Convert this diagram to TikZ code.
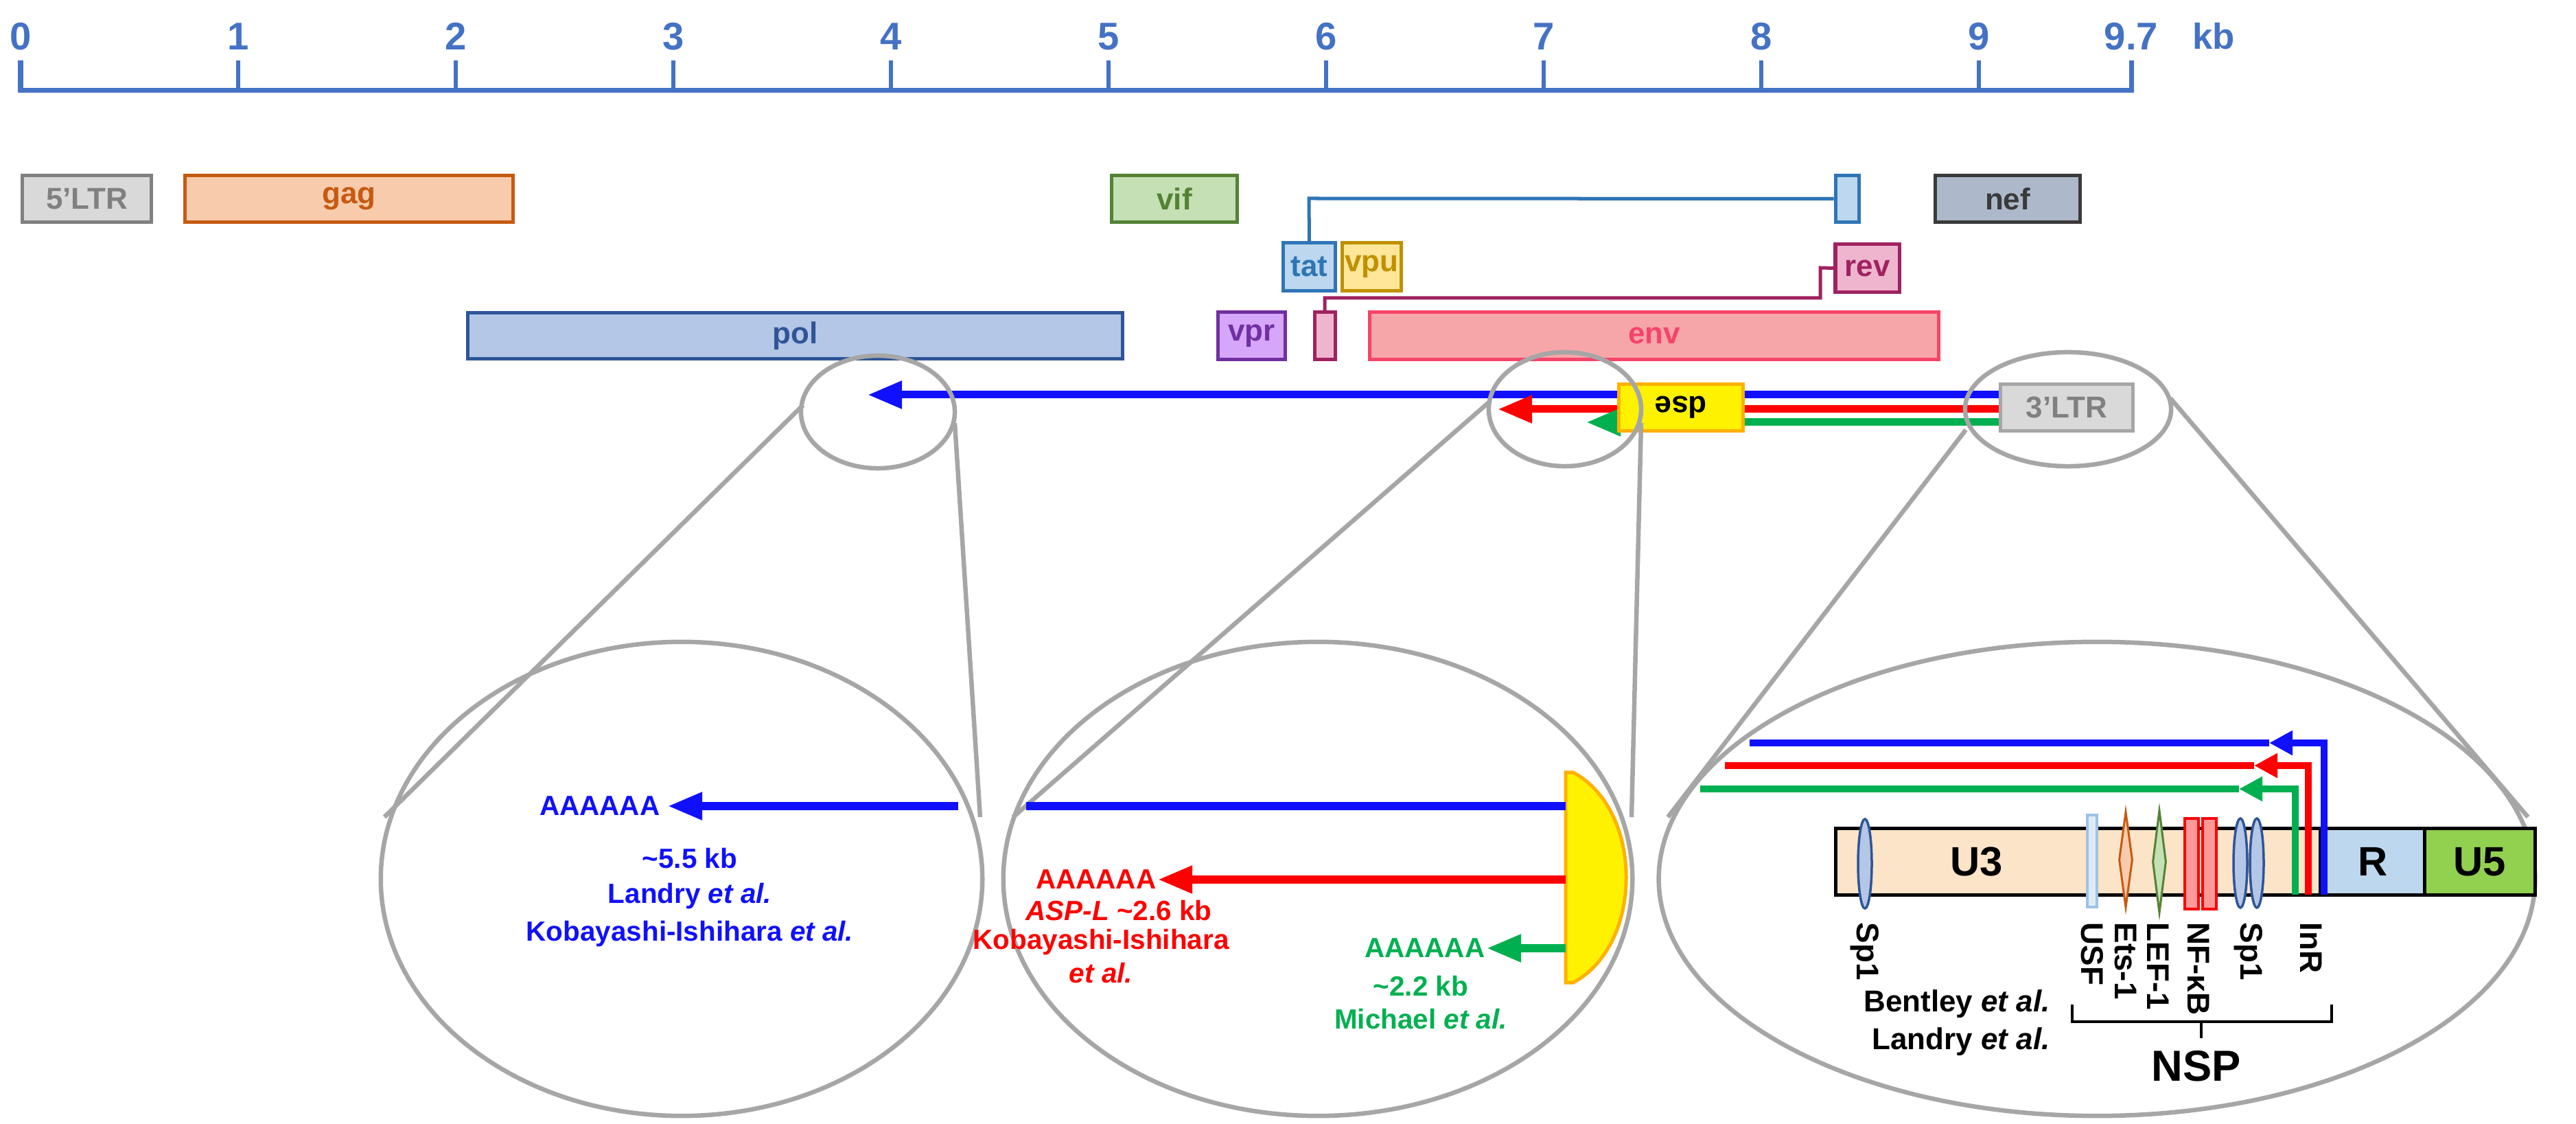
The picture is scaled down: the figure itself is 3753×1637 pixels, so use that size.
\documentclass[tikz,border=0pt]{standalone}
\usepackage{fontspec}
\setmainfont{Liberation Sans}
\usetikzlibrary{arrows.meta,shapes.geometric}
\definecolor{axis}{HTML}{4472C4}
\definecolor{ablue}{HTML}{1010FF}
\definecolor{agreen}{HTML}{00B050}
\definecolor{ared}{HTML}{FF0000}
\definecolor{zoomgray}{HTML}{A6A6A6}
\definecolor{ltrd}{HTML}{808080}\definecolor{ltrf}{HTML}{D9D9D9}
\definecolor{gagd}{HTML}{C55A11}\definecolor{gagf}{HTML}{F8CBAD}
\definecolor{vifd}{HTML}{548235}\definecolor{viff}{HTML}{C5E0B4}
\definecolor{tatd}{HTML}{2E75B6}\definecolor{tatf}{HTML}{BDD7EE}
\definecolor{nefd}{HTML}{3A3A3A}\definecolor{neff}{HTML}{ADB9CA}
\definecolor{vpud}{HTML}{BF9000}\definecolor{vpuf}{HTML}{FFE699}
\definecolor{revd}{HTML}{9F2260}\definecolor{revf}{HTML}{EFB5CE}
\definecolor{pold}{HTML}{2F5597}\definecolor{polf}{HTML}{B4C7E7}
\definecolor{vprd}{HTML}{7030A0}\definecolor{vprf}{HTML}{D6A6FA}
\definecolor{envd}{HTML}{F64468}\definecolor{envf}{HTML}{F6A6A8}
\definecolor{dsed}{HTML}{FFB000}
\definecolor{ltr3d}{HTML}{A6A6A6}
\definecolor{u3f}{HTML}{FCE4C8}\definecolor{u5f}{HTML}{92D050}
\definecolor{usfd}{HTML}{9DC3E6}\definecolor{usff}{HTML}{DEEBF7}
\definecolor{nff}{HTML}{FF9999}
\begin{document}
\begin{tikzpicture}[x=0.01cm,y=-0.01cm,font=\bfseries,
  gene/.style={draw,line width=0.05cm,inner sep=0,font=\fontsize{12.5}{14}\bfseries\selectfont},
  zoomline/.style={draw=zoomgray,line width=0.065cm},
  tr/.style={line width=0.11cm},
  trs/.style={line width=0.1cm},
  head/.style={-{Triangle[length=0.5cm,width=0.38cm]}},
  heads/.style={-{Triangle[length=0.34cm,width=0.34cm]}},
  txt/.style={font=\fontsize{11.5}{13}\bfseries\selectfont,inner sep=0},
  rl/.style={rotate=-90,anchor=west,inner sep=0,font=\fontsize{13}{15}\bfseries\selectfont},
  sp/.style={ellipse,draw=pold,fill=polf,line width=0.035cm,minimum width=0.2cm,minimum height=1.3cm,inner sep=0}]
\useasboundingbox (0,0) rectangle (3753,1637);
% scale
\draw[axis,line width=0.07cm] (30,88) -- (30,132) -- (3105,132) -- (3105,88);
\foreach \k in {1,...,9} \draw[axis,line width=0.06cm] (30+317*\k,88) -- (30+317*\k,132);
\foreach \k in {0,...,9} \node[axis,font=\fontsize{16}{18}\bfseries\selectfont] (t\k) at (30+317*\k,53) {\k};
\node[axis,font=\fontsize{16}{18}\bfseries\selectfont] (t97) at (3105,53) {9.7};
\node[axis,font=\fontsize{15}{18}\bfseries\selectfont] (kb) at (3225,53) {kb};
% genes row 1
\node[gene,draw=ltrd,fill=ltrf,text=ltrd,minimum width=1.87cm,minimum height=0.67cm] (ltr5) at (126.5,289.5) {5’LTR};
\node[gene,draw=gagd,fill=gagf,text=gagd,minimum width=4.77cm,minimum height=0.67cm] (gag) at (508.5,289.5) {gag};
\node[gene,draw=vifd,fill=viff,text=vifd,minimum width=1.82cm,minimum height=0.67cm] (vif) at (1711,289.5) {vif};
\node[gene,draw=tatd,fill=tatf,minimum width=0.34cm,minimum height=0.67cm] (tat2) at (2691,289.5) {};
\node[gene,draw=nefd,fill=neff,text=nefd,minimum width=2.1cm,minimum height=0.67cm] (nef) at (2925,289.5) {nef};
% row 2
\node[gene,draw=tatd,fill=tatf,text=tatd,minimum width=0.75cm,minimum height=0.69cm] (tat) at (1907.5,388.5) {tat};
\node[gene,draw=vpud,fill=vpuf,text=vpud,minimum width=0.85cm,minimum height=0.69cm] (vpu) at (1998.5,388.5) {vpu};
\node[gene,draw=revd,fill=revf,text=revd,minimum width=0.93cm,minimum height=0.69cm] (rev) at (2720.5,390.5) {rev};
% row 3
\node[gene,draw=pold,fill=polf,text=pold,minimum width=9.53cm,minimum height=0.67cm] (pol) at (1158.5,489) {pol};
\node[gene,draw=vprd,fill=vprf,text=vprd,minimum width=0.97cm,minimum height=0.68cm] (vpr) at (1823.5,489) {vpr};
\node[gene,draw=revd,fill=revf,minimum width=0.3cm,minimum height=0.68cm] (rev1) at (1930,489) {};
\node[gene,draw=envd,fill=envf,text=envd,minimum width=8.28cm,minimum height=0.68cm] (env) at (2410,489) {env};
% splice lines
\draw[tatd,line width=0.05cm] (tat.north) -- (1907,289) -- (tat2.west);
\draw[revd,line width=0.05cm] (rev1.north) -- (1930,434) -- (2652,434) -- (2652,390) -- (rev.west);
% transcripts
\node[gene,draw=ltr3d,fill=ltrf,text=ltrd,minimum width=1.92cm,minimum height=0.67cm] (ltr3) at (3011,593.5) {3’LTR};
\coordinate (bt) at (1264,575);
\coordinate (rt) at (2182,596);
\coordinate (gt) at (2311,615);
\draw[ablue,tr,head] (ltr3.west |- 0,575) -- (bt);
\draw[ared,tr,head] (ltr3.west |- 0,596) -- (rt);
\draw[agreen,tr,head] (ltr3.west |- 0,615) -- (gt);
\node[gene,draw=dsed,fill=yellow,text=black,minimum width=1.8cm,minimum height=0.67cm,rotate=180] (dse) at (2449,593.5) {dse};
% zoom ellipses
\node[ellipse,zoomline,minimum width=2.24cm,minimum height=1.64cm] (z1) at (1279,600) {};
\node[ellipse,zoomline,minimum width=2.22cm,minimum height=1.66cm] (z2) at (2280,596) {};
\node[ellipse,zoomline,minimum width=3.0cm,minimum height=1.66cm] (z3) at (3013,596) {};
\node[ellipse,zoomline,minimum width=8.76cm,minimum height=6.9cm] (Z1) at (993,1280) {};
\node[ellipse,zoomline,minimum width=9.16cm,minimum height=6.9cm] (Z2) at (1920,1280) {};
\node[ellipse,zoomline,minimum width=12.76cm,minimum height=6.9cm] (Z3) at (3055,1280) {};
\coordinate (p1) at (1170,590);  \coordinate (q1) at (560,1190);
\coordinate (p2) at (1391,616);  \coordinate (q2) at (1428,1190);
\coordinate (p3) at (2169,586);  \coordinate (q3) at (1476,1190);
\coordinate (p4) at (2391,616);  \coordinate (q4) at (2377,1190);
\coordinate (p5) at (2864,626);  \coordinate (q5) at (2430,1190);
\coordinate (p6) at (3162,580);  \coordinate (q6) at (3683,1190);
\draw[zoomline] (p1) -- (q1);
\draw[zoomline] (p2) -- (q2);
\draw[zoomline] (p3) -- (q3);
\draw[zoomline] (p4) -- (q4);
\draw[zoomline] (p5) -- (q5);
\draw[zoomline] (p6) -- (q6);
% left zoom content
\coordinate (b1s) at (1396,1174);
\coordinate (b1e) at (973,1174);
\draw[ablue,tr,head] (b1s) -- (b1e);
\node[txt,ablue,anchor=east] (a1) at (962,1174) {AAAAAA};
\node[txt,ablue] (k1) at (1005,1250) {\textasciitilde5.5 kb};
\node[txt,ablue] (l1) at (1005,1305) {Landry \textit{et al.}};
\node[txt,ablue] (ko1) at (1005,1360) {Kobayashi-Ishihara \textit{et al.}};
% middle zoom content
\draw[dsed,fill=yellow,line width=0.05cm] (2281,1125) -- (2292,1125) .. controls (2395,1180) and (2395,1376) .. (2292,1431) -- (2281,1431) -- cycle;
\coordinate (hd) at (2281,1174);
\coordinate (hb) at (1495,1174);
\draw[ablue,tr] (hb) -- (hd);
\coordinate (rs) at (2281,1281);
\coordinate (re) at (1687,1281);
\draw[ared,tr,head] (rs) -- (re);
\node[txt,ared,anchor=east] (a2) at (1685,1281) {AAAAAA};
\node[txt,ared] (k2) at (1630,1326) {\textit{ASP-L} \textasciitilde2.6 kb};
\node[txt,ared] (ko2) at (1604,1372) {Kobayashi-Ishihara};
\node[txt,ared] (e2) at (1604,1417) {\textit{et al.}};
\coordinate (gs) at (2281,1381);
\coordinate (ge) at (2166,1381);
\draw[agreen,tr,head] (gs) -- (ge);
\node[txt,agreen,anchor=east] (a3) at (2164,1381) {AAAAAA};
\node[txt,agreen] (k3) at (2070,1436) {\textasciitilde2.2 kb};
\node[txt,agreen] (m3) at (2070,1484) {Michael \textit{et al.}};
% right zoom content
\node[draw,line width=0.05cm,fill=u3f,minimum width=7.06cm,minimum height=0.96cm,inner sep=0] (U3) at (3028,1255) {};
\node[font=\fontsize{17}{19}\bfseries\selectfont] (u3t) at (2880,1255) {U3};
\node[draw,line width=0.05cm,fill=tatf,minimum width=1.52cm,minimum height=0.96cm,inner sep=0,font=\fontsize{17}{19}\bfseries\selectfont] (R) at (3457,1255) {R};
\node[draw,line width=0.05cm,fill=u5f,minimum width=1.6cm,minimum height=0.96cm,inner sep=0,font=\fontsize{17}{19}\bfseries\selectfont] (U5) at (3613,1255) {U5};
\node[sp] (sp1a) at (2717,1258) {};
\node[draw=usfd,fill=usff,line width=0.04cm,minimum width=0.14cm,minimum height=1.33cm,inner sep=0] (usf) at (3048,1254) {};
\node[diamond,draw=gagd,fill=gagf,line width=0.03cm,minimum width=0.2cm,minimum height=1.4cm,inner sep=0,aspect=0.14] (ets) at (3097,1252) {};
\node[diamond,draw=vifd,fill=viff,line width=0.03cm,minimum width=0.2cm,minimum height=1.5cm,inner sep=0,aspect=0.13] (lef) at (3146,1255) {};
\node[draw=ared,fill=nff,line width=0.04cm,minimum width=0.2cm,minimum height=1.31cm,inner sep=0] (nf1) at (3193,1258) {};
\node[draw=ared,fill=nff,line width=0.04cm,minimum width=0.2cm,minimum height=1.31cm,inner sep=0] (nf2) at (3219,1258) {};
\node[sp] (sp1b) at (3264,1257) {};
\node[sp] (sp1c) at (3288,1257) {};
\coordinate (bv) at (3386,1303);
\coordinate (rv) at (3363,1303);
\coordinate (gv) at (3344,1303);
\coordinate (bh) at (3306,1082);
\coordinate (rh) at (3284,1115);
\coordinate (gh) at (3262,1149);
\coordinate (bl) at (2549,1082);
\coordinate (rl) at (2513,1115);
\coordinate (gl) at (2477,1149);
\draw[ablue,trs,heads] (bv) -- (bv |- bh) -- (bh);
\draw[ablue,trs] (bh) -- (bl);
\draw[ared,trs,heads] (rv) -- (rv |- rh) -- (rh);
\draw[ared,trs] (rh) -- (rl);
\draw[agreen,trs,heads] (gv) -- (gv |- gh) -- (gh);
\draw[agreen,trs] (gh) -- (gl);
\node[rl] (lsp1) at (2717,1343) {Sp1};
\node[rl] (lusf) at (3048,1343) {USF};
\node[rl] (lets) at (3097,1343) {Ets-1};
\node[rl] (llef) at (3144,1343) {LEF-1};
\node[rl] (lnf) at (3203,1343) {NF-κB};
\node[rl] (lsp2) at (3276,1343) {Sp1};
\node[rl] (linr) at (3367,1343) {InR};
\draw[line width=0.045cm] (3019,1463) -- (3019,1488) -- (3397,1488) -- (3397,1463);
\draw[line width=0.045cm] (3207,1488) -- (3207,1512);
\node[font=\fontsize{18}{20}\bfseries\selectfont] (nsp) at (3200,1553) {NSP};
\node[txt,font=\fontsize{12.5}{14}\bfseries\selectfont] (bent) at (2851,1462) {Bentley \textit{et al.}};
\node[txt,font=\fontsize{12.5}{14}\bfseries\selectfont] (land) at (2857,1517) {Landry \textit{et al.}};
\end{tikzpicture}
\end{document}
